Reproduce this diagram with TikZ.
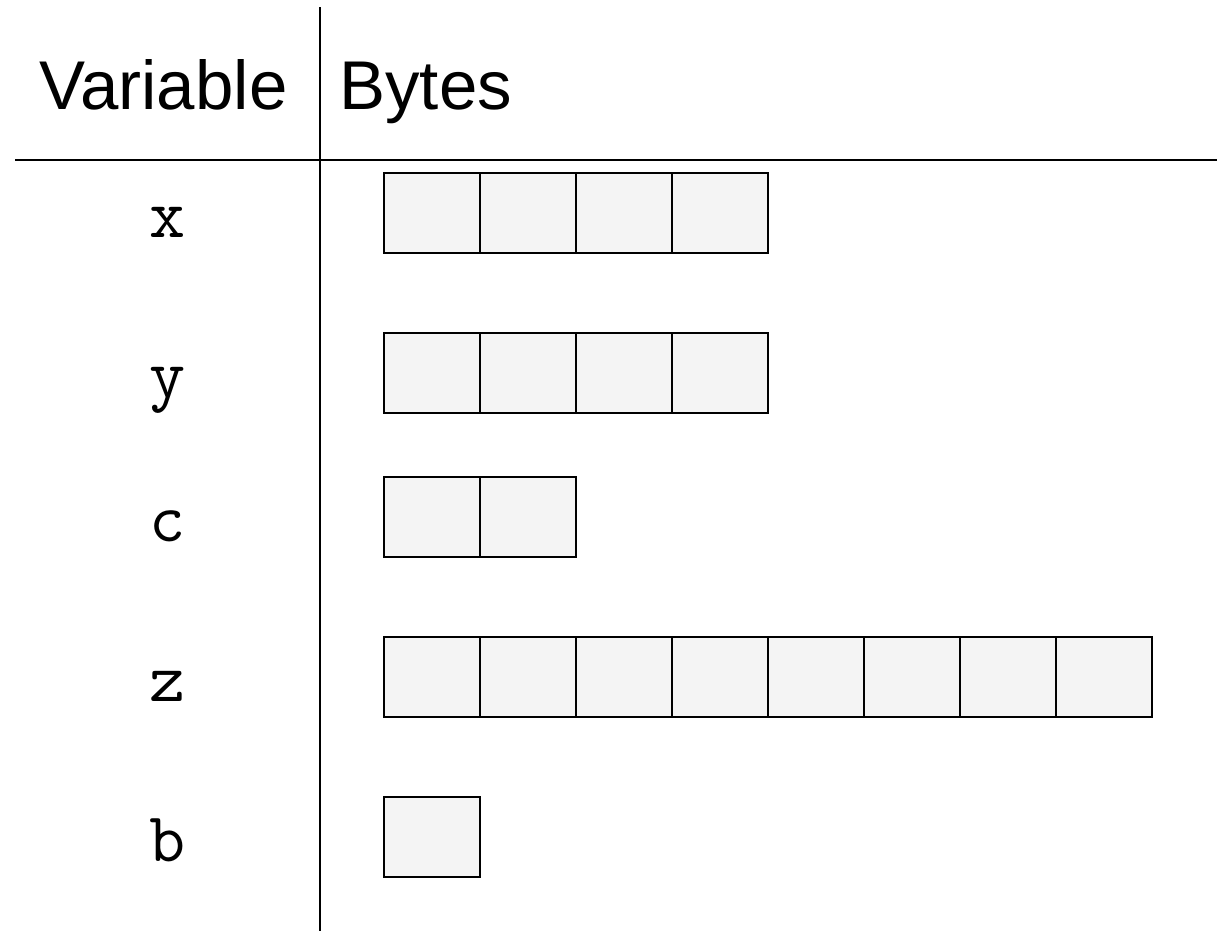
\documentclass[tikz,border=0pt]{standalone}
\usepackage{fontspec}
\setmainfont{Liberation Sans}
\begin{document}
\begin{tikzpicture}[x=0.5bp,y=-0.5bp,
  rule/.style={line width=1.2bp,black},
  cell/.style={draw=black,line width=1bp,fill=cellgray,minimum width=48bp,minimum height=40bp,inner sep=0pt,outer sep=0pt},
  head/.style={inner sep=0pt,anchor=base west,font=\fontsize{34.5bp}{40bp}\selectfont},
  var/.style={inner sep=0pt,anchor=base,font=\ttfamily\fontsize{35bp}{40bp}\selectfont}]
\definecolor{cellgray}{HTML}{F4F4F4}
\useasboundingbox (0,0) rectangle (1217,931);
% table rules
\coordinate (vtop) at (320,7);
\coordinate (vbot) at (320,931);
\coordinate (hleft) at (15,160);
\coordinate (hright) at (1217,160);
\draw[rule] (vtop) -- (vbot);
\draw[rule] (hleft) -- (hright);
% column headings
\node[head] (hvar) at (39,109) {Variable};
\node[head] (hbytes) at (339,109) {Bytes};
% one row per variable: name, row centre, number of bytes
\foreach \name/\yc/\n in {x/213/4, y/373/4, c/517/2, z/677/8, b/837/1} {
  \node[var] (lbl-\name) at (168,\yc+24.5) {\name};
  \foreach \i in {1,...,\n} {
    \node[cell] (cell-\name-\i) at ({384+96*(\i-1)+48},\yc) {};
  }
}
\end{tikzpicture}
\end{document}
